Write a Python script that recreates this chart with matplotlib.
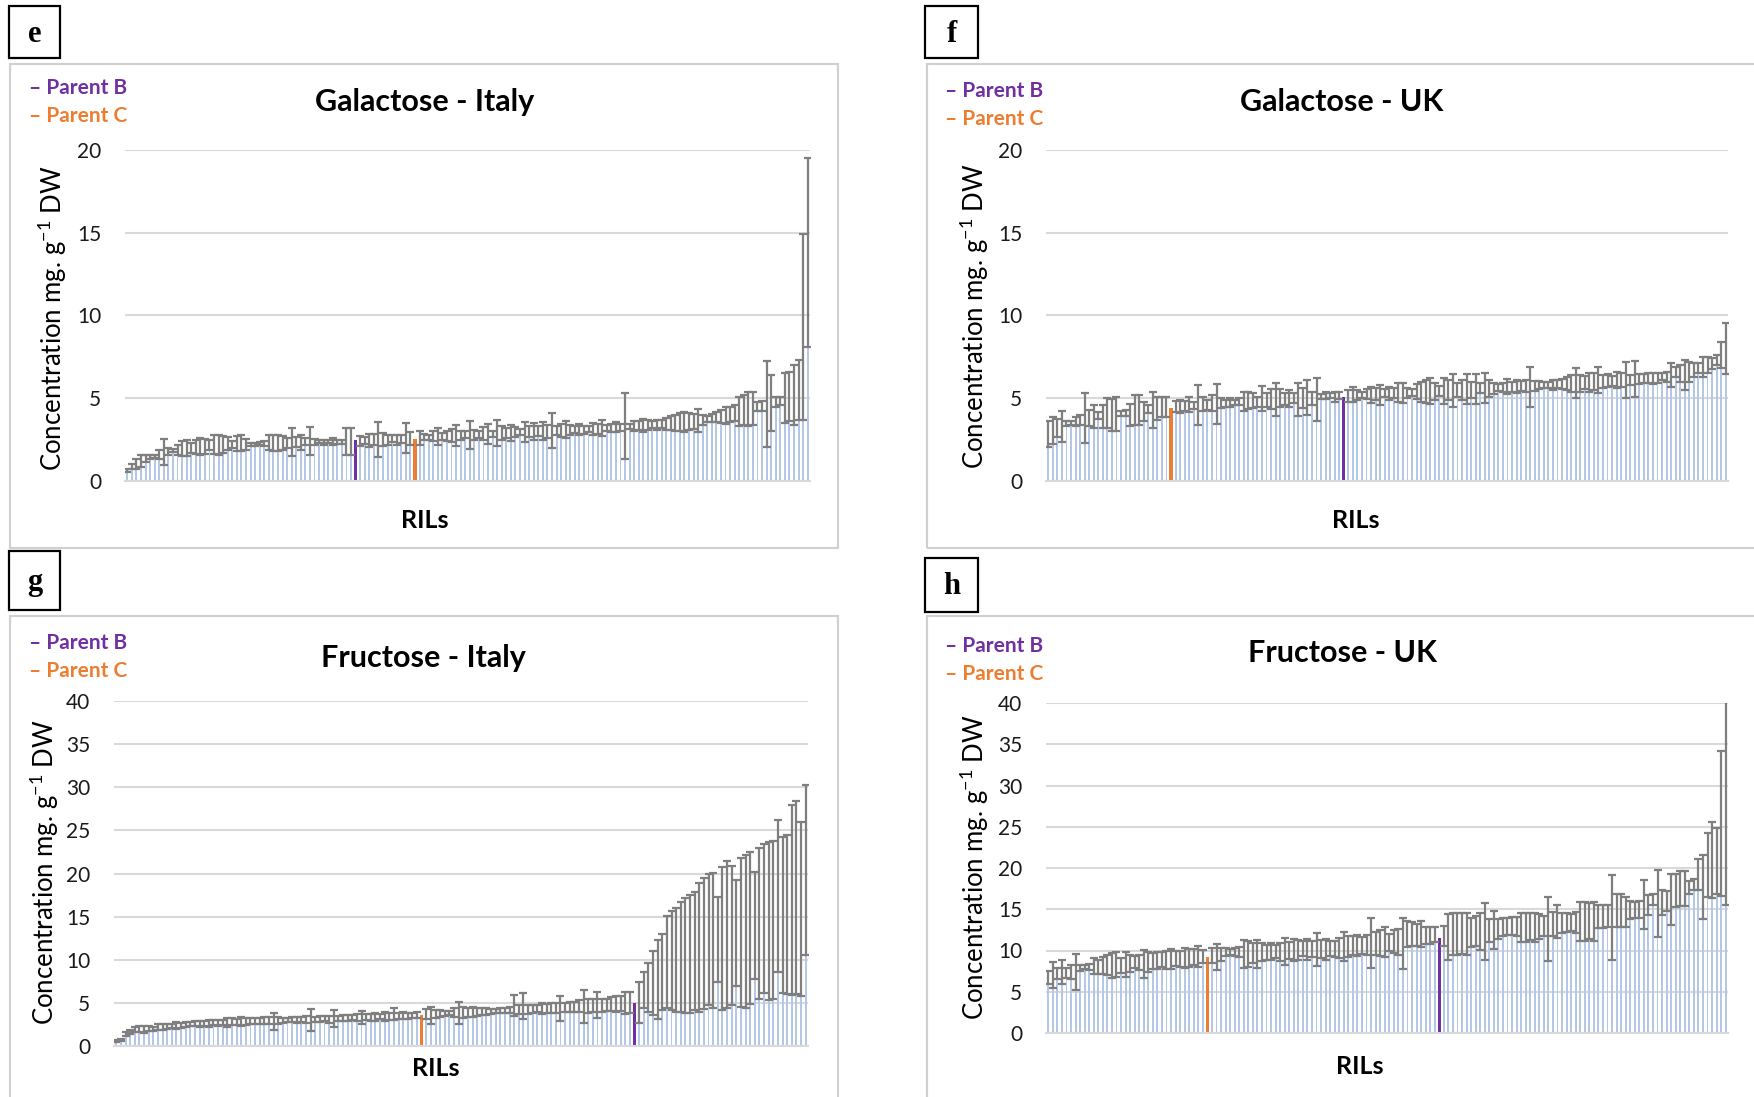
import matplotlib
matplotlib.use("Agg")
import matplotlib.pyplot as plt
from matplotlib.patches import Rectangle

plt.rcParams['font.family'] = ['Lato', 'DejaVu Sans']
plt.rcParams['mathtext.default'] = 'regular'

W, H = 1754, 1097

# ---- data: mean concentration and error per RIL (sorted), parents inserted ----
gal_italy_mean = [
    0.65, 0.9, 1.05, 1.2, 1.35, 1.45, 1.5, 1.6, 1.75, 1.8, 1.85, 1.9, 1.95, 2.0, 2.0,
    2.05, 2.1, 2.1, 2.15, 2.2, 2.2, 2.2, 2.25, 2.2, 2.25, 2.3, 2.2, 2.2, 2.2, 2.25,
    2.25, 2.3, 2.3, 2.3, 2.3, 2.3, 2.35, 2.35, 2.35, 2.4, 2.4, 2.35, 2.4, 2.35, 2.4,
    2.4, 2.35, 2.35, 2.4, 2.4, 2.45, 2.4, 2.45, 2.45, 2.5, 2.5, 2.5, 2.5, 2.55, 2.5,
    2.55, 2.6, 2.55, 2.55, 2.6, 2.65, 2.65, 2.7, 2.7, 2.7, 2.7, 2.75, 2.75, 2.75, 2.8,
    2.8, 2.8, 2.8, 2.85, 2.85, 2.85, 2.9, 2.9, 2.9, 2.9, 2.95, 2.95, 2.95, 3.0, 3.0,
    3.0, 3.0, 3.0, 3.05, 3.05, 3.05, 3.1, 3.1, 3.1, 3.1, 3.1, 3.15, 3.15, 3.15, 3.2,
    3.2, 3.2, 3.25, 3.25, 3.3, 3.3, 3.3, 3.35, 3.35, 3.4, 3.4, 3.4, 3.45, 3.45, 3.5,
    3.5, 3.55, 3.55, 3.6, 3.6, 3.65, 3.7, 3.75, 3.8, 3.85, 3.9, 3.95, 4.0, 4.1, 4.2,
    4.3, 4.35, 4.4, 4.5, 4.55, 4.65, 4.7, 4.8, 4.85, 5.0, 5.1, 5.2, 5.5, 9.3, 13.8]
gal_italy_err = [
    0.1, 0.15, 0.3, 0.35, 0.2, 0.15, 0.1, 0.3, 0.8, 0.2, 0.1, 0.3, 0.45, 0.5, 0.3,
    0.4, 0.5, 0.45, 0.3, 0.55, 0.6, 0.5, 0.4, 0.2, 0.45, 0.5, 0.35, 0.1, 0.1, 0.1,
    0.15, 0.45, 0.5, 0.5, 0.4, 0.3, 0.85, 0.3, 0.45, 0.2, 0.85, 0.2, 0.1, 0.15, 0.1,
    0.2, 0.1, 0.1, 0.8, 0.8, 0.0, 0.3, 0.2, 0.4, 0.35, 1.05, 0.4, 0.3, 0.2, 0.3,
    0.25, 0.9, 0.4, 0.0, 0.4, 0.2, 0.15, 0.3, 0.5, 0.2, 0.3, 0.4, 0.65, 0.3, 0.2,
    0.85, 0.3, 0.2, 0.4, 0.6, 0.2, 0.8, 0.4, 0.3, 0.5, 0.3, 0.2, 0.6, 0.35, 0.5,
    0.3, 0.55, 0.4, 1.05, 0.3, 0.4, 0.5, 0.3, 0.2, 0.35, 0.25, 0.2, 0.35, 0.3, 0.5,
    0.2, 0.25, 0.3, 0.2, 2.0, 0.15, 0.3, 0.25, 0.4, 0.3, 0.2, 0.3, 0.25, 0.35, 0.4,
    0.5, 0.55, 0.6, 0.5, 0.45, 0.7, 0.3, 0.2, 0.25, 0.3, 0.4, 0.5, 0.45, 0.5, 0.85,
    0.9, 1.0, 1.0, 0.3, 0.3, 2.6, 1.7, 0.3, 0.25, 1.5, 1.5, 1.8, 1.8, 5.6, 5.7]

gal_uk_mean = [
    2.85, 3.05, 3.2, 3.3, 3.5, 3.5, 3.6, 3.7, 3.8, 3.8, 3.9, 3.95, 3.9, 4.1, 4.0,
    4.05, 4.1, 4.1, 4.0, 4.3, 4.3, 4.2, 4.35, 4.3, 4.4, 4.45, 4.45, 4.4, 4.5, 4.5,
    4.55, 4.6, 4.55, 4.6, 4.65, 4.6, 4.7, 4.65, 4.7, 4.7, 4.75, 4.75, 4.8, 4.8, 4.85,
    4.85, 4.8, 5.0, 4.9, 4.95, 4.9, 5.0, 4.95, 5.0, 5.0, 4.95, 5.0, 5.05, 5.0, 4.9,
    5.1, 5.15, 5.15, 5.1, 5.15, 5.05, 5.15, 5.2, 5.2, 5.2, 5.25, 5.2, 5.25, 5.2, 5.3,
    5.3, 5.3, 5.35, 5.3, 5.3, 5.35, 5.4, 5.4, 5.4, 5.45, 5.4, 5.45, 5.45, 5.5, 5.45,
    5.5, 5.5, 5.55, 5.5, 5.55, 5.6, 5.6, 5.6, 5.6, 5.65, 5.65, 5.7, 5.7, 5.7, 5.75,
    5.75, 5.7, 5.75, 5.8, 5.8, 5.8, 5.8, 5.85, 5.85, 5.9, 5.9, 5.9, 5.9, 5.95, 5.95,
    6.0, 6.1, 6.0, 6.05, 6.05, 6.1, 6.1, 6.1, 6.1, 6.15, 6.15, 6.2, 6.2, 6.2, 6.25,
    6.3, 6.3, 6.4, 6.6, 6.5, 6.4, 6.6, 6.7, 6.8, 6.9, 7.0, 7.1, 7.3, 7.6, 8.0]
gal_uk_err = [
    0.8, 0.8, 0.55, 0.95, 0.15, 0.1, 0.25, 0.3, 1.5, 0.5, 0.7, 0.2, 0.7, 0.9, 0.95,
    1.0, 0.15, 0.2, 0.65, 0.9, 0.9, 0.6, 0.25, 1.1, 0.7, 0.6, 0.6, 0.0, 0.35, 0.4,
    0.3, 0.45, 0.2, 1.2, 0.4, 0.3, 0.5, 1.2, 0.3, 0.2, 0.25, 0.15, 0.2, 0.6, 0.5,
    0.45, 0.3, 0.75, 0.4, 0.6, 1.0, 0.55, 0.35, 0.5, 0.3, 1.0, 0.6, 1.05, 0.4, 1.3,
    0.15, 0.2, 0.15, 0.3, 0.2, 0.0, 0.35, 0.45, 0.3, 0.2, 0.3, 0.5, 0.35, 0.6, 0.25,
    0.4, 0.3, 0.55, 0.6, 0.3, 0.2, 0.45, 0.6, 0.7, 0.8, 0.5, 0.3, 0.8, 0.6, 1.0,
    0.4, 0.6, 0.9, 0.5, 0.9, 0.3, 0.9, 0.5, 0.35, 0.2, 0.3, 0.45, 0.3, 0.4, 0.3,
    0.35, 1.2, 0.3, 0.25, 0.2, 0.2, 0.3, 0.25, 0.3, 0.4, 0.5, 0.9, 0.5, 0.4, 0.6,
    0.5, 0.8, 0.4, 0.4, 0.3, 0.5, 0.4, 1.1, 0.3, 1.1, 0.3, 0.25, 0.3, 0.35, 0.3,
    0.2, 0.3, 0.7, 0.3, 0.5, 0.9, 0.6, 0.4, 0.3, 0.6, 0.5, 0.35, 0.3, 0.8, 1.55]

fru_italy_mean = [
    0.6, 0.7, 1.4, 1.65, 1.9, 1.95, 1.9, 2.0, 2.0, 2.2, 2.2, 2.3, 2.3, 2.4, 2.4,
    2.5, 2.55, 2.6, 2.6, 2.65, 2.6, 2.7, 2.7, 2.75, 2.7, 2.8, 2.8, 2.85, 2.8, 2.9,
    2.9, 2.9, 2.95, 2.95, 2.8, 3.0, 3.0, 3.0, 3.05, 3.05, 3.05, 3.1, 3.0, 3.1, 3.1,
    3.15, 3.1, 3.2, 3.2, 3.25, 3.25, 3.3, 3.3, 3.3, 3.35, 3.35, 3.4, 3.4, 3.4, 3.45,
    3.7, 3.45, 3.5, 3.5, 3.55, 3.6, 3.55, 3.7, 3.5, 3.75, 3.75, 3.8, 3.8, 3.85, 3.85,
    3.9, 3.9, 3.95, 3.95, 4.0, 4.0, 4.0, 4.05, 4.1, 4.1, 4.15, 4.7, 4.2, 4.6, 4.25,
    4.3, 4.3, 4.35, 4.35, 4.4, 4.4, 4.4, 4.5, 4.5, 4.55, 4.6, 4.6, 4.65, 4.7, 4.8,
    4.75, 4.8, 4.85, 4.9, 4.95, 5.0, 5.05, 4.96, 5.05, 6.5, 6.8, 7.3, 7.7, 8.6, 9.75,
    9.95, 10.0, 10.35, 10.5, 10.65, 11.0, 11.45, 11.9, 12.35, 12.25, 12.35, 12.45, 12.95, 12.8, 13.1,
    13.15, 13.3, 13.7, 14.0, 14.25, 14.75, 14.5, 14.65, 17.4, 15.15, 15.25, 16.9, 17.2, 15.9, 20.4]
fru_italy_err = [
    0.1, 0.1, 0.2, 0.25, 0.3, 0.35, 0.4, 0.3, 0.25, 0.3, 0.35, 0.3, 0.2, 0.4, 0.3,
    0.3, 0.2, 0.25, 0.35, 0.3, 0.45, 0.3, 0.35, 0.3, 0.5, 0.4, 0.35, 0.5, 0.4, 0.3,
    0.3, 0.35, 0.4, 0.45, 1.0, 0.4, 0.3, 0.25, 0.3, 0.35, 0.3, 0.4, 1.3, 0.3, 0.35,
    0.3, 0.4, 1.0, 0.3, 0.35, 0.4, 0.3, 0.45, 0.8, 0.35, 0.4, 0.45, 0.3, 0.5, 0.4,
    0.7, 0.35, 0.4, 0.35, 0.3, 0.4, 0.0, 0.6, 1.0, 0.45, 0.4, 0.3, 0.25, 0.5, 1.3,
    0.6, 0.5, 0.6, 0.5, 0.4, 0.35, 0.3, 0.25, 0.3, 0.25, 0.35, 1.2, 0.5, 1.5, 0.5,
    0.45, 0.4, 0.6, 0.5, 0.55, 0.6, 1.45, 0.5, 0.6, 0.6, 0.7, 1.9, 0.8, 0.7, 1.5,
    0.75, 0.7, 0.8, 0.9, 0.85, 1.3, 1.2, 0.0, 2.35, 2.1, 2.8, 3.7, 4.6, 4.4, 5.35,
    5.75, 6.0, 6.35, 6.7, 6.85, 6.8, 7.45, 7.6, 7.65, 7.85, 4.95, 8.25, 8.55, 8.1, 6.1,
    8.65, 8.9, 8.8, 6.2, 8.75, 8.65, 9.2, 9.15, 8.8, 9.05, 9.25, 11.0, 11.2, 10.1, 9.9]

fru_uk_mean = [
    6.7, 7.0, 7.2, 7.4, 7.3, 7.4, 7.4, 7.9, 8.0, 8.0, 8.1, 8.0, 8.2, 8.2, 8.2,
    8.3, 8.2, 8.3, 8.4, 8.6, 8.5, 8.4, 8.6, 8.7, 8.8, 8.9, 8.9, 9.0, 9.0, 9.0,
    9.1, 9.1, 9.2, 9.3, 9.3, 9.2, 9.4, 9.2, 9.5, 9.8, 9.8, 9.8, 9.8, 9.6, 9.6,
    9.7, 9.6, 9.8, 9.8, 9.9, 9.9, 9.8, 9.9, 10.0, 10.1, 10.1, 10.2, 10.1, 10.2, 10.1,
    10.2, 10.1, 10.2, 10.2, 10.3, 10.5, 10.5, 10.6, 10.6, 10.6, 10.7, 10.9, 10.8, 10.9, 11.0,
    11.0, 11.1, 11.0, 10.9, 12.0, 12.0, 11.9, 12.0, 11.8, 11.8, 11.9, 11.5, 11.8, 11.6, 12.0,
    12.0, 12.1, 12.0, 12.2, 12.4, 12.3, 12.3, 12.4, 12.5, 12.6, 12.9, 12.9, 13.0, 12.9, 12.8,
    12.8, 12.9, 12.8, 12.9, 13.0, 12.6, 13.2, 13.5, 13.3, 13.4, 13.4, 13.4, 13.5, 13.5, 13.6,
    13.5, 14.1, 14.1, 14.2, 14.0, 14.8, 14.8, 14.7, 14.9, 14.9, 15.0, 15.6, 15.5, 16.2, 15.7,
    15.8, 16.0, 16.2, 17.3, 17.5, 17.5, 17.6, 18.0, 19.2, 17.7, 20.4, 21.0, 20.9, 25.4, 29.5]
fru_uk_err = [
    0.8, 1.6, 0.65, 1.5, 0.6, 0.8, 2.2, 0.4, 0.3, 0.4, 1.0, 0.8, 1.0, 1.2, 1.5,
    1.5, 0.9, 1.5, 1.0, 0.7, 0.9, 1.7, 1.2, 1.0, 1.0, 0.9, 1.1, 1.2, 0.9, 1.0,
    1.2, 1.1, 1.0, 1.3, 0.8, 0.0, 0.9, 1.55, 0.8, 0.5, 0.4, 0.5, 0.6, 1.7, 1.6,
    1.2, 1.7, 1.1, 0.9, 1.0, 0.8, 1.1, 1.6, 1.0, 1.35, 1.2, 0.9, 1.3, 1.0, 2.0,
    1.1, 1.3, 0.9, 1.0, 1.2, 1.8, 1.3, 1.2, 1.3, 1.0, 1.2, 3.0, 1.4, 1.6, 1.8,
    1.0, 1.4, 1.6, 3.1, 1.6, 1.5, 1.3, 1.6, 1.0, 1.0, 0.9, 0.0, 1.2, 2.8, 2.6,
    2.6, 2.5, 2.6, 1.8, 1.8, 2.2, 3.4, 1.4, 2.3, 1.2, 1.1, 1.0, 1.1, 1.2, 1.75,
    1.75, 1.6, 1.8, 1.5, 1.2, 3.9, 1.5, 2.0, 1.2, 1.2, 1.0, 1.3, 2.4, 2.4, 2.2,
    2.4, 1.4, 1.4, 1.3, 5.1, 2.0, 2.0, 1.8, 1.05, 1.0, 1.05, 3.0, 1.2, 0.7, 4.1,
    1.5, 1.2, 3.1, 2.0, 2.1, 2.1, 0.8, 0.7, 1.9, 3.9, 3.9, 4.6, 4.0, 8.8, 14.0]

# position of the parent lines in each sorted series (Parent B, Parent C)
parent_idx = {'e': (50, 63), 'f': (65, 27), 'g': (112, 66), 'h': (86, 35)}

BAR = '#B4C7E7'
ERR = '#7F7F7F'
PB = '#7030A0'
PC = '#ED7D31'
GRID = '#D9D9D9'

panels = [
    # key, title, mean, err, ymax, axes box (px), panel box (px), label box (px), title xy, rils xy, legend xy, ylabel xy
    ('e', 'Galactose - Italy', gal_italy_mean, gal_italy_err, 20,
     (125, 150, 810, 481), (10, 64, 838, 548), (9, 6, 60, 58),
     (425, 102), (425, 520), (29, 88), (53, 318)),
    ('f', 'Galactose - UK', gal_uk_mean, gal_uk_err, 20,
     (1046, 150, 1728, 481), (927, 64, 1760, 548), (925, 6, 978, 58),
     (1342, 102), (1356, 520), (945, 91), (975, 316)),
    ('g', 'Fructose - Italy', fru_italy_mean, fru_italy_err, 40,
     (114, 701, 808, 1046), (10, 616, 838, 1110), (9, 551, 60, 610),
     (423, 658), (436, 1068), (29, 643), (45, 872)),
    ('h', 'Fructose - UK', fru_uk_mean, fru_uk_err, 40,
     (1046, 703, 1728, 1033), (927, 616, 1760, 1110), (925, 558, 978, 612),
     (1342, 653), (1360, 1067), (945, 646), (975, 867)),
]

fig = plt.figure(figsize=(W / 100, H / 100), dpi=100)


def fx(x):
    return x / W


def fy(y):
    return 1 - y / H


for key, title, mean, err, ymax, axb, pbox, lbox, txy, rxy, lxy, yxy in panels:
    # outer chart frame
    fig.patches.append(Rectangle((fx(pbox[0]), fy(pbox[3])), fx(pbox[2] - pbox[0]),
                                 (pbox[3] - pbox[1]) / H, transform=fig.transFigure,
                                 fill=False, edgecolor='#D0D0D0', lw=1.5))
    # panel letter box
    fig.patches.append(Rectangle((fx(lbox[0]), fy(lbox[3])), fx(lbox[2] - lbox[0]),
                                 (lbox[3] - lbox[1]) / H, transform=fig.transFigure,
                                 facecolor='white', edgecolor='black', lw=1.6))
    fig.text(fx((lbox[0] + lbox[2]) / 2), fy((lbox[1] + lbox[3]) / 2 + 2), key,
             family='Liberation Serif', weight='bold', fontsize=22,
             ha='center', va='center')

    ax = fig.add_axes([fx(axb[0]), fy(axb[3]), fx(axb[2] - axb[0]), (axb[3] - axb[1]) / H])
    n = len(mean)
    xs = list(range(n))
    ib, ic = parent_idx[key]
    colors = [BAR] * n
    colors[ib] = PB
    colors[ic] = PC
    widths = [0.42] * n
    widths[ib] = 0.7
    widths[ic] = 0.7
    ax.bar(xs, mean, width=widths, color=colors, zorder=2)
    ex = [i for i in xs if i not in (ib, ic)]
    ax.errorbar(ex, [mean[i] for i in ex], yerr=[err[i] for i in ex], fmt='none',
                ecolor=ERR, elinewidth=1.6, capsize=3, capthick=1.6, zorder=3)
    ax.set_xlim(-0.5, n - 0.5)
    ax.set_ylim(0, ymax)
    ax.set_yticks(range(0, ymax + 1, 5))
    ax.set_xticks([])
    ax.yaxis.grid(True, color=GRID, lw=1.5, zorder=0)
    ax.set_axisbelow(True)
    for s in ('top', 'right', 'left'):
        ax.spines[s].set_visible(False)
    ax.spines['bottom'].set_color(GRID)
    ax.spines['bottom'].set_linewidth(1.5)
    ax.tick_params(axis='y', length=0, pad=17, labelsize=15, labelcolor='#1a1a1a')

    fig.text(fx(txy[0]), fy(txy[1]), title, fontsize=22, weight='bold',
             ha='center', va='center')
    fig.text(fx(rxy[0]), fy(rxy[1]), 'RILs', fontsize=18, weight='bold',
             ha='center', va='center')
    fig.text(fx(yxy[0]), fy(yxy[1]), 'Concentration mg. g$^{-1}$ DW', fontsize=18.5,
             rotation=90, ha='center', va='center')
    fig.text(fx(lxy[0]), fy(lxy[1]), '\u2013 Parent B', color=PB, fontsize=15,
             weight='bold', ha='left', va='center')
    fig.text(fx(lxy[0]), fy(lxy[1] + 28), '\u2013 Parent C', color=PC, fontsize=15,
             weight='bold', ha='left', va='center')

fig.savefig('out.png', dpi=100, facecolor='white')
